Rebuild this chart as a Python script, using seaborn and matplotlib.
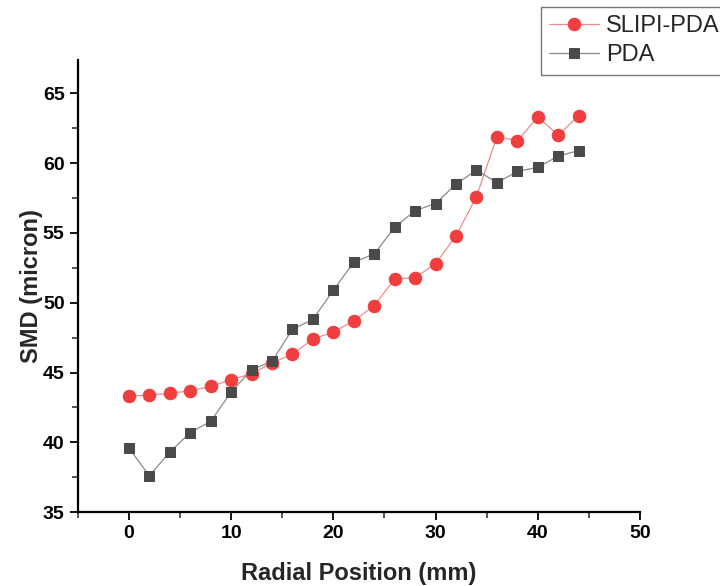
import pandas as pd
import seaborn as sns
import matplotlib.pyplot as plt
from matplotlib.ticker import MultipleLocator

# radial positions (mm)
radial_mm = [0, 2, 4, 6, 8, 10, 12, 14, 16, 18, 20, 22, 24, 26, 28, 30, 32, 34, 36, 38, 40, 42, 44]

# SMD values (micron)
smd_slipi = [43.3, 43.4, 43.5, 43.7, 44.0, 44.5, 44.9, 45.7, 46.3, 47.4, 47.9, 48.7,
             49.8, 51.7, 51.8, 52.8, 54.8, 57.6, 61.9, 61.6, 63.3, 62.0, 63.4]
smd_pda = [39.6, 37.6, 39.3, 40.7, 41.5, 43.6, 45.2, 45.8, 48.1, 48.8, 50.9, 52.9,
           53.5, 55.4, 56.6, 57.1, 58.5, 59.5, 58.6, 59.4, 59.7, 60.5, 60.9]

df = pd.DataFrame({"Radial": radial_mm, "SLIPI-PDA": smd_slipi, "PDA": smd_pda})

sns.set_style("ticks")
plt.rcParams['font.family'] = ['Liberation Sans', 'DejaVu Sans']

fig = plt.figure(figsize=(7.2, 5.86), dpi=100)
ax = fig.add_axes([0.108, 0.126, 0.781, 0.772])

# SLIPI-PDA series
sns.lineplot(data=df, x="Radial", y="SLIPI-PDA", ax=ax, color="#f28b8b", linewidth=0.9,
             marker="o", markersize=9, markerfacecolor="#f03e3e", markeredgecolor="#f03e3e",
             label="SLIPI-PDA")
# PDA series
sns.lineplot(data=df, x="Radial", y="PDA", ax=ax, color="#8a8a8a", linewidth=0.9,
             marker="s", markersize=7.8, markerfacecolor="#4a4a4a", markeredgecolor="#4a4a4a",
             label="PDA")

ax.set_xlim(-5, 50)
ax.set_ylim(35, 67.4)
ax.xaxis.set_major_locator(MultipleLocator(10))
ax.xaxis.set_minor_locator(MultipleLocator(5))
ax.yaxis.set_major_locator(MultipleLocator(5))
ax.yaxis.set_minor_locator(MultipleLocator(2.5))

sns.despine(ax=ax)
for s in ["left", "bottom"]:
    ax.spines[s].set_linewidth(1.6)
    ax.spines[s].set_color("black")

ax.tick_params(axis="both", which="major", length=6, width=1.3, direction="out",
               labelsize=14, colors="black")
ax.tick_params(axis="both", which="minor", length=4, width=1.1, direction="out")
for lab in ax.get_xticklabels() + ax.get_yticklabels():
    lab.set_fontweight("bold")

ax.set_xlabel("Radial Position (mm)", fontsize=17, fontweight="bold", labelpad=14)
ax.set_ylabel("SMD (micron)", fontsize=17, fontweight="bold", labelpad=0)

ax.get_legend().remove()
handles, labels = ax.get_legend_handles_labels()
leg = fig.legend(handles, labels, loc="upper left", bbox_to_anchor=(0.751, 0.988),
                 fontsize=17, frameon=True, fancybox=False, edgecolor="#555555",
                 handlelength=2.1, handletextpad=0.3, borderpad=0.35, borderaxespad=0,
                 labelspacing=0.3)
leg.get_frame().set_linewidth(1.0)

fig.savefig("out.png", dpi=100)
